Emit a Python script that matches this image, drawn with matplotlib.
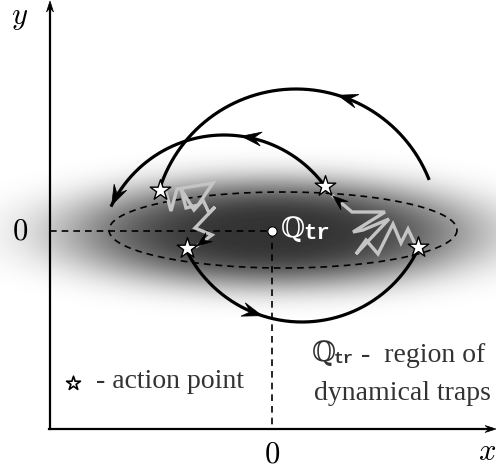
import numpy as np
import matplotlib
matplotlib.use("Agg")
import matplotlib.pyplot as plt
from matplotlib.patches import Polygon

plt.rcParams['mathtext.fontset'] = 'cm'

# ---- scene parameters (pixel space, y downward) ----
W, H = 496, 471
origin = (50, 429)              # axes corner
center = (272, 231)             # Q_tr centre (the "0,0" point)
blob_c = (272, 233)
blob_ax, blob_ay, blob_p, blob_depth = 205, 54, 1.7, 0.8
ellipse_c = (283, 230)
ellipse_a, ellipse_b = 174, 38

# arcs: centre, radius, start angle, end angle, arrow angles (deg)
arc_big = dict(c=(296, 232), r=143, t0=22, t1=162, arrows=[73])
arc_mid = dict(c=(224, 260), r=125, t0=36, t1=154, arrows=[82, 154])
arc_low = dict(c=(302, 193), r=129, t0=206, t1=334, arrows=[252])

stars_x = [160, 325, 187, 418]
stars_y = [190, 186, 248, 247]

zig_left_x = [166, 171, 177, 213, 198, 186, 181, 194, 203, 209, 215, 195, 212, 197]
zig_left_y = [192, 211, 189, 183, 205, 208, 189, 210, 200, 213, 207, 228, 235, 246]
zig_right_x = [416, 408, 401, 393, 378, 366, 356, 389, 363, 353, 385, 352, 333]
zig_right_y = [246, 229, 243, 224, 254, 240, 254, 219, 230, 232, 212, 212, 196]

Q_SYM = '\u211a'
Q_SUB = 'tr'

fig = plt.figure(figsize=(W / 100, H / 100), dpi=100)
ax = fig.add_axes([0, 0, 1, 1])
ax.set_xlim(0, W)
ax.set_ylim(H, 0)
ax.axis('off')

# blob
xx, yy = np.meshgrid(np.arange(W) + 0.5, np.arange(H) + 0.5)
r2 = ((xx - blob_c[0]) / blob_ax) ** 2 + ((yy - blob_c[1]) / blob_ay) ** 2
img = 1 - blob_depth * np.exp(-r2 ** blob_p)
ax.imshow(img, cmap='gray', vmin=0, vmax=1, extent=(0, W, H, 0), zorder=0,
          interpolation='bilinear')


def head(tip, direction, L=15, w=5.5, z=5):
    d = np.asarray(direction, float)
    d = d / np.hypot(*d)
    n = np.array([-d[1], d[0]])
    tip = np.asarray(tip, float)
    pts = [tip, tip - L * d + w * n, tip - 0.62 * L * d, tip - L * d - w * n]
    ax.add_patch(Polygon(pts, closed=True, fc='black', ec='black', lw=0.5, zorder=z))


def qtr(x, y, color, size, sub_size, sub_dx):
    ax.text(x, y, Q_SYM, fontsize=size, family='DejaVu Serif', color=color,
            ha='left', va='baseline', zorder=7)
    ax.text(x + sub_dx, y + 2, Q_SUB, fontsize=sub_size,
            family='Liberation Mono', weight='bold', color=color,
            ha='left', va='baseline', zorder=7)


# axes with arrows
ax.plot([origin[0], origin[0]], [origin[1], 8], color='black', lw=1.6)
ax.plot([origin[0] - 1, 489], [origin[1], origin[1]], color='black', lw=1.6)
head((origin[0], 1), (0, -1), L=11, w=3.5)
head((496, origin[1]), (1, 0), L=11, w=3.5)

# dashed guides
ax.plot([origin[0], center[0]], [center[1], center[1]], ls=(0, (4, 3)), color='black', lw=1.2)
ax.plot([center[0], center[0]], [center[1], origin[1]], ls=(0, (4, 3)), color='black', lw=1.2)
t = np.linspace(0, 2 * np.pi, 400)
ax.plot(ellipse_c[0] + ellipse_a * np.cos(t), ellipse_c[1] + ellipse_b * np.sin(t),
        ls=(0, (4, 3)), color='black', lw=1.2)


# zigzags
def zig(xs, ys):
    ax.plot(xs, ys, color='#c4c4c4', lw=2.4, solid_joinstyle='miter', zorder=3)
    head((xs[-1], ys[-1]), (xs[-1] - xs[-2], ys[-1] - ys[-2]), L=15, w=5.5, z=5)


zig(zig_left_x, zig_left_y)
zig(zig_right_x, zig_right_y)


# arcs
def arc(p):
    cx, cy = p['c']
    r = p['r']
    tt = np.radians(np.linspace(p['t0'], p['t1'], 300))
    ax.plot(cx + r * np.cos(tt), cy - r * np.sin(tt), color='black', lw=2.3, zorder=4)
    sgn = 1 if p['t1'] > p['t0'] else -1
    for a in p['arrows']:
        a1 = np.radians(a)
        tip = (cx + r * np.cos(a1), cy - r * np.sin(a1))
        dvec = (-np.sin(a1) * sgn, -np.cos(a1) * sgn)
        head(tip, dvec, L=20, w=7)


arc(arc_big)
arc(arc_mid)
arc(arc_low)

# stars
ax.scatter(stars_x, stars_y, marker='*', s=240, c='white', edgecolors='black',
           linewidths=1.0, zorder=6)

# centre point
ax.scatter([center[0]], [center[1]], s=45, c='white', edgecolors='black', lw=0.8, zorder=6)
qtr(281, 237, 'white', size=20, sub_size=16, sub_dx=22)

# axis labels
ax.text(20, 18, r'$y$', fontsize=22, ha='center', va='center')
ax.text(487, 452, r'$x$', fontsize=22, ha='center', va='center')
ax.text(20, 231, r'$0$', fontsize=22, ha='center', va='center')
ax.text(272, 454, r'$0$', fontsize=22, ha='center', va='center')

# legend texts
ax.scatter([73], [383], marker='*', s=110, c='white', edgecolors='black', linewidths=1.2, zorder=6)
ax.text(96, 381, '- action point', fontsize=20, family='Liberation Serif',
        color='#333333', ha='left', va='center')
qtr(312, 361, '#333333', size=20, sub_size=12, sub_dx=22)
ax.text(361, 356, '-  region of', fontsize=20, family='Liberation Serif',
        color='#333333', ha='left', va='center')
ax.text(314, 393, 'dynamical traps', fontsize=20, family='Liberation Serif',
        color='#333333', ha='left', va='center')

fig.savefig('out.png', dpi=100)
